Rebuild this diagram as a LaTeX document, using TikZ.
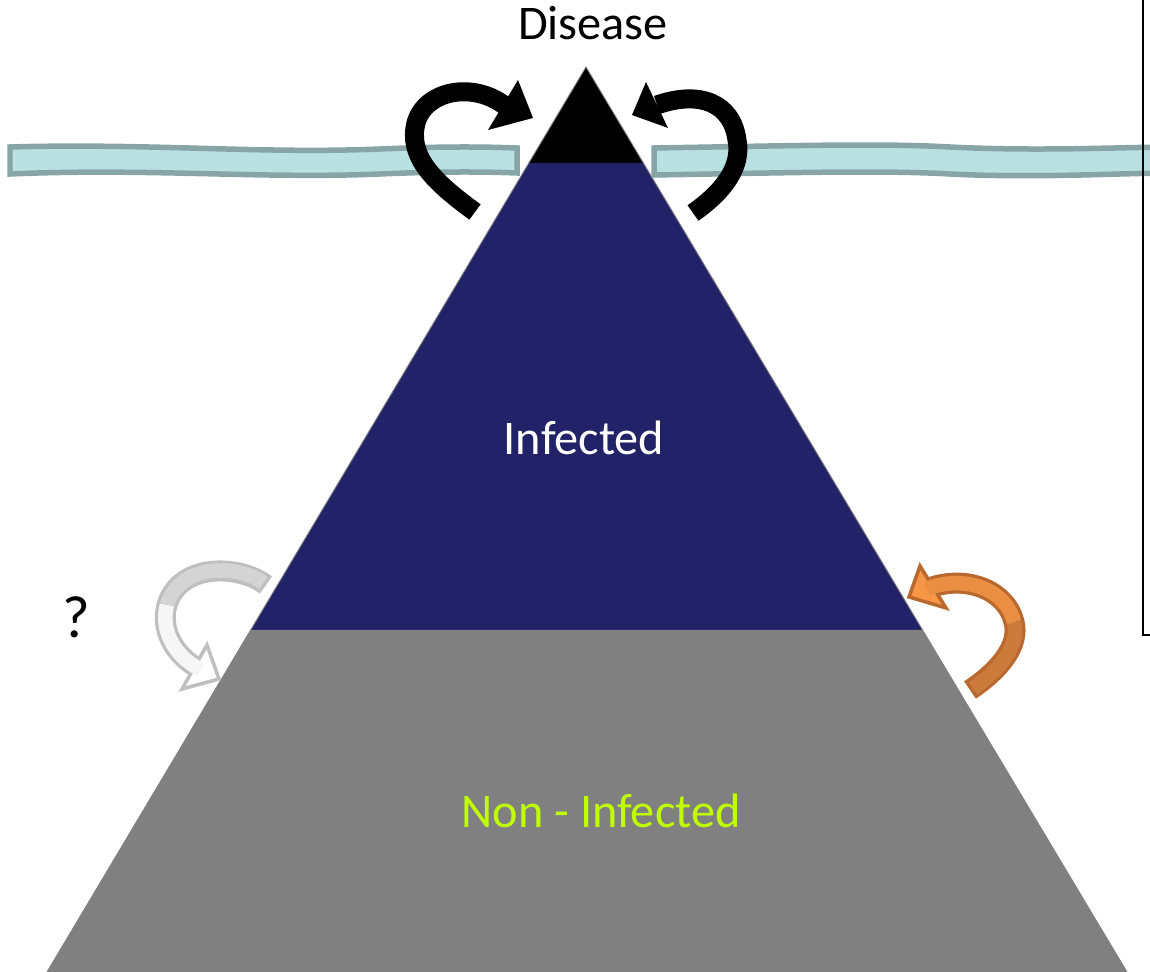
\documentclass[tikz,border=0pt]{standalone}
\usepackage{fontspec}
\setmainfont{Carlito}
\usepackage{tikz}
\usetikzlibrary{positioning}
\usetikzlibrary{calc}

\definecolor{navy}{HTML}{222268}
\definecolor{midgray}{HTML}{808080}
\definecolor{watercol}{HTML}{B9E0E2}
\definecolor{wateredge}{HTML}{87A5A6}
\definecolor{lime}{HTML}{C0FF00}
\definecolor{grayedge}{HTML}{BFBFBF}
\definecolor{grayfill}{HTML}{D4D4D4}
\definecolor{orangeedge}{HTML}{B9692E}
\definecolor{orangedark}{HTML}{CB7B3B}
\definecolor{orangefill}{HTML}{F79646}

\begin{document}
\begin{tikzpicture}[x=0.02cm, y=-0.02cm,
    txt/.style={anchor=base, font=\fontsize{27.5}{33}\selectfont},
    water/.style={draw=wateredge, fill=watercol, line width=0.11cm},
    blackshaft/.style={draw=black, line width=0.38cm},
    outershaft/.style={line width=0.42cm},
    innershaft/.style={line width=0.29cm}]
        % Fix the canvas
        \useasboundingbox (0,0) rectangle (1150,972);

        % Define the pyramid corners and the cut points on its sides
        \coordinate (apex) at (586,67);
        \coordinate (bl) at (47,972);
        \coordinate (br) at (1127,972);
        \coordinate (tl) at (528.8,163);
        \coordinate (tr) at (643.4,163);
        \coordinate (ml) at (250.7,630);
        \coordinate (mr) at (922.6,630);

        % Draw the three layers
        \fill[black] (apex) -- (tr) -- (tl) -- cycle;
        \fill[navy] (tl) -- (tr) -- (mr) -- (ml) -- cycle;
        \fill[midgray] (ml) -- (mr) -- (br) -- (bl) -- cycle;
        \draw[gray, line width=0.5pt] (bl) -- (apex) -- (br);

        % Draw the water line on both sides
        \draw[water] (10,147) .. controls (150,143) and (260,154) .. (380,149) .. controls (450,146) and (490,147) .. (517,148)
          -- (517,173) .. controls (490,172) and (450,171) .. (380,174) .. controls (260,179) and (150,168) .. (10,174) -- cycle;
        \draw[water] (654,148) .. controls (780,146) and (880,143) .. (950,147) .. controls (1030,151) and (1100,148) .. (1165,147)
          -- (1165,173) .. controls (1100,174) and (1030,178) .. (950,174) .. controls (880,170) and (780,173) .. (654,175) -- cycle;

        % Draw the frame on the right
        \draw[line width=0.04cm] (1143,-10) -- (1143,635) -- (1165,635);

        % Texts
        \node[txt] (disease) at (593,40) {Disease};
        \node[txt, text=white] (infected) at (584,455) {Infected};
        \node[txt, text=lime] (noninfected) at (601,828) {Non - Infected};
        \node[anchor=base, font=\fontsize{34}{40}\selectfont] (quest) at (76,638) {?};

        % Black arrow on the left
        \coordinate (lbtail) at (475,212);
        \coordinate (lbside) at (415,128);
        \coordinate (lbbase) at (504,105);
        \draw[blackshaft] (lbtail) .. controls (438,185) and (410,160) .. (lbside) .. controls (420,92) and (470,80) .. (lbbase);
        \fill[black] (533,118) -- (518,80) -- (488,130) -- cycle;

        % Black arrow on the right
        \coordinate (rbtail) at (693,213);
        \coordinate (rbside) at (737,140);
        \coordinate (rbbase) at (657,105);
        \draw[blackshaft] (rbtail) .. controls (726,190) and (742,165) .. (rbside) .. controls (732,103) and (700,90) .. (rbbase);
        \fill[black] (632,115) -- (646,82) -- (668,128) -- cycle;

        % Gray arrow on the left
        \coordinate (gtail) at (266,585);
        \coordinate (gside) at (167,605);
        \coordinate (gbase) at (196,667);
        \draw[outershaft, grayedge] (gtail) .. controls (240,565) and (180,562) .. (gside) .. controls (160,630) and (175,655) .. (gbase);
        \filldraw[fill=white, draw=grayedge, line width=0.07cm, line join=miter] (219,679) -- (207,645) -- (182,689) -- cycle;
        \draw[innershaft, grayfill, shorten <=0.07cm] (gtail) .. controls (240,565) and (180,562) .. (gside);
        \draw[innershaft, white!93!gray] (gside) .. controls (160,630) and (175,655) .. (gbase) -- (201,670);

        % Orange arrow on the right
        \coordinate (otail) at (970,690);
        \coordinate (oside) at (1014,622);
        \coordinate (obase) at (932,587);
        \draw[outershaft, orangeedge] (otail) .. controls (1000,670) and (1020,645) .. (oside) .. controls (1007,592) and (970,575) .. (obase);
        \filldraw[fill=orangefill, draw=orangeedge, line width=0.07cm, line join=miter] (909,597) -- (920,566) -- (946,608) -- cycle;
        \draw[innershaft, orangedark, shorten <=0.07cm] (otail) .. controls (1000,670) and (1020,645) .. (oside);
        \draw[innershaft, orangefill!70!orangedark] (oside) .. controls (1007,592) and (970,575) .. (obase) -- (927,589);
\end{tikzpicture}
\end{document}
